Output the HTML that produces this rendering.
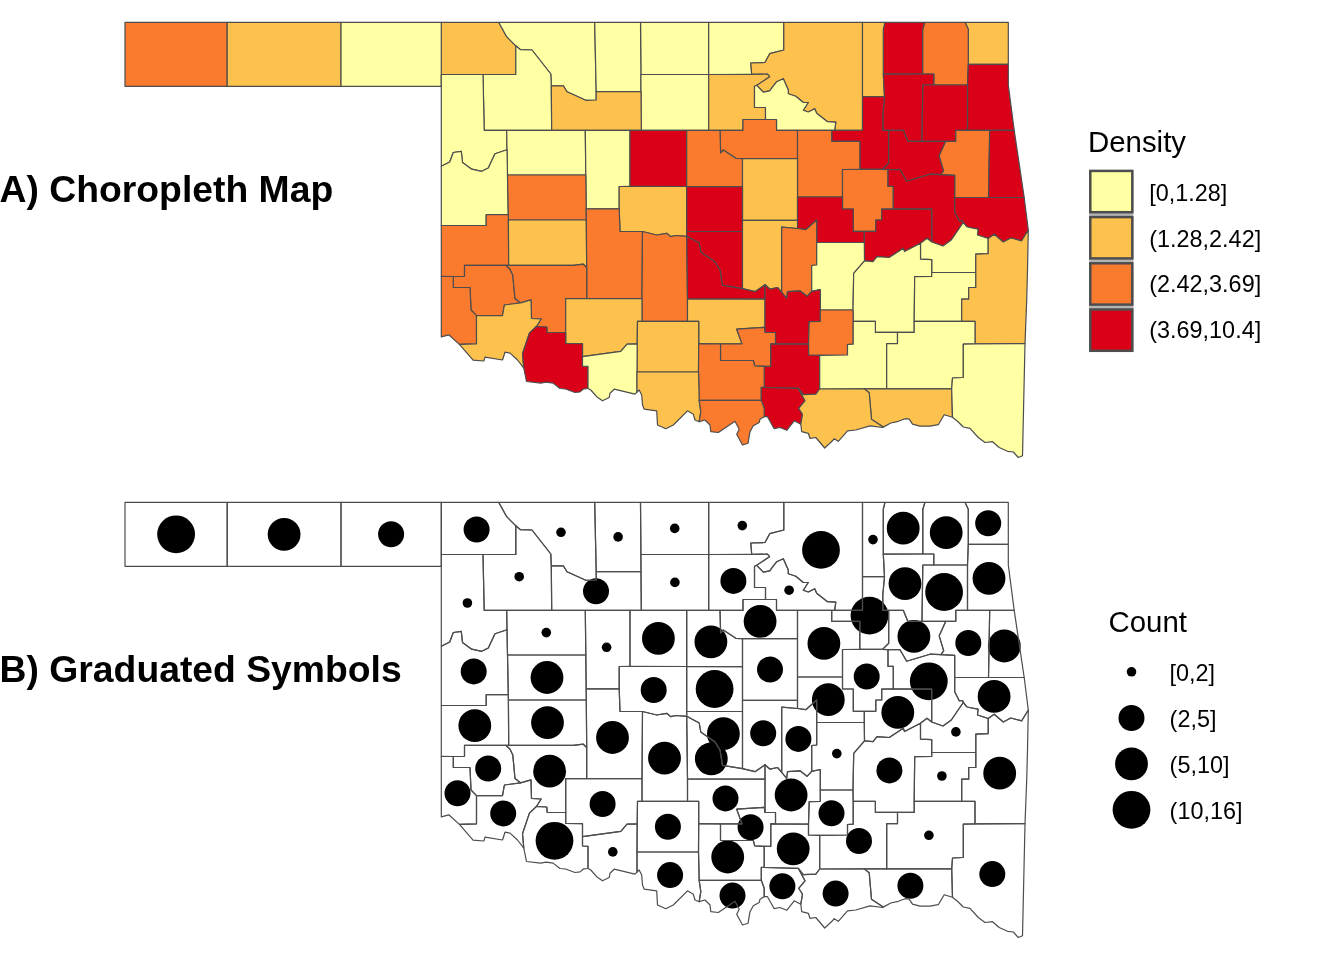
<!DOCTYPE html>
<html lang="en"><head><meta charset="utf-8"><title>Oklahoma maps</title>
<style>
html,body{margin:0;padding:0;background:#fff;}
body{width:1344px;height:960px;overflow:hidden;position:relative;font-family:"Liberation Sans",Arial,sans-serif;}
svg{position:absolute;left:0;top:0;display:block;}
.ttl{font-family:"Liberation Sans",Arial,sans-serif;font-weight:700;font-size:37.3px;fill:#000;}
.lt{font-family:"Liberation Sans",Arial,sans-serif;font-size:29.4px;fill:#000;}
.ll{font-family:"Liberation Sans",Arial,sans-serif;font-size:23.4px;fill:#000;}
</style></head><body>
<svg width="1344" height="960" viewBox="0 0 1344 960">
<rect width="1344" height="960" fill="#fff"/>
<g stroke="#4d4d4d" stroke-width="1.2" stroke-linejoin="round">
<path d="M498.7 22.3L441.3 22.3L441.3 74.5L483.0 74.5L515.8 74.5L515.8 45.8L506.7 36.7Z" fill="#fdc24e"/><path d="M708.7 22.3L640.5 22.3L640.9 74.5L708.7 74.5Z" fill="#ffffa3"/><path d="M783.8 22.3L708.7 22.3L708.7 74.5L751.7 74.3L750.8 63.0L765.0 62.5L769.7 53.7L783.8 50.0Z" fill="#ffffa3"/><path d="M925.0 22.3L885.0 22.3L883.3 29.2L883.3 74.2L922.8 74.0L922.8 29.2Z" fill="#da0017"/><path d="M1008.3 64.4L1008.3 22.3L965.0 22.3L968.3 29.2L968.3 64.4Z" fill="#fdc24e"/><path d="M227.2 22.3L125.0 22.3L125.0 86.3L227.2 86.3Z" fill="#fb7b2e"/><path d="M341.0 22.3L227.2 22.3L227.2 86.3L341.0 86.3Z" fill="#fdc24e"/><path d="M441.3 22.3L341.0 22.3L341.0 86.3L441.3 86.3L441.3 74.5Z" fill="#ffffa3"/><path d="M594.7 22.3L498.7 22.3L506.7 36.7L515.8 45.8L520.5 49.7L532.0 50.0L550.8 74.0L551.3 85.8L563.3 85.8L567.0 91.7L585.8 100.3L596.2 100.0L596.2 91.7Z" fill="#ffffa3"/><path d="M640.5 22.3L594.7 22.3L596.2 91.7L641.0 91.7L640.9 74.5Z" fill="#ffffa3"/><path d="M862.5 22.3L783.8 22.3L783.8 50.0L769.7 53.7L765.0 62.5L750.8 63.0L751.7 74.3L767.5 74.2L769.5 76.7L756.7 85.3L763.3 92.2L769.7 90.8L772.8 86.7L776.7 81.7L783.3 78.7L788.3 90.0L788.3 93.7L795.8 96.2L803.3 102.5L808.3 102.5L803.3 110.3L808.3 112.0L814.7 108.7L816.7 113.3L827.5 121.7L835.8 122.2L834.7 130.3L862.5 130.2L862.5 96.7Z" fill="#fdc24e"/><path d="M885.0 22.3L862.5 22.3L862.5 96.7L884.5 96.7L883.3 74.3L883.3 74.2L883.3 29.2Z" fill="#fdc24e"/><path d="M965.0 22.3L925.0 22.3L922.8 29.2L922.8 74.0L933.8 74.0L933.8 85.0L967.5 85.0L968.3 64.4L968.3 29.2Z" fill="#fb7b2e"/><path d="M515.8 74.5L483.0 74.5L484.2 130.3L506.7 130.3L551.7 130.3L551.3 85.8L550.8 74.0L532.0 50.0L520.5 49.7L515.8 45.8Z" fill="#ffffa3"/><path d="M640.9 74.5L641.0 91.7L641.3 130.3L686.7 130.3L708.7 130.3L708.7 74.5Z" fill="#ffffa3"/><path d="M751.7 74.3L708.7 74.5L708.7 130.3L720.0 130.3L743.0 130.3L743.0 119.5L765.5 119.5L765.5 107.5L754.5 107.5L754.5 86.3L756.7 85.3L769.5 76.7L767.5 74.2Z" fill="#fdc24e"/><path d="M882.8 130.3L888.7 130.3L903.3 130.3L907.8 141.3L922.0 141.3L922.8 85.0L933.8 85.0L933.8 74.0L922.8 74.0L883.3 74.2L883.3 74.3L884.5 96.7L882.8 115.0Z" fill="#da0017"/><path d="M1014.2 130.3L1008.3 85.0L1008.3 64.4L968.3 64.4L967.5 85.0L967.5 130.3L989.7 130.3Z" fill="#da0017"/><path d="M441.3 86.3L441.3 166.3L449.7 162.0L453.3 152.5L461.3 151.3L462.5 162.5L471.7 169.2L481.7 171.3L488.3 168.0L495.0 153.7L507.0 149.7L506.7 130.3L484.2 130.3L483.0 74.5L441.3 74.5Z" fill="#ffffa3"/><path d="M596.2 91.7L596.2 100.0L585.8 100.3L567.0 91.7L563.3 85.8L551.3 85.8L551.7 130.3L585.3 130.3L630.0 130.3L641.3 130.3L641.0 91.7Z" fill="#fdc24e"/><path d="M765.5 119.5L776.5 119.5L776.5 130.3L797.5 130.3L831.7 130.3L834.7 130.3L835.8 122.2L827.5 121.7L816.7 113.3L814.7 108.7L808.3 112.0L803.3 110.3L808.3 102.5L803.3 102.5L795.8 96.2L788.3 93.7L788.3 90.0L783.3 78.7L776.7 81.7L772.8 86.7L769.7 90.8L763.3 92.2L756.7 85.3L754.5 86.3L754.5 107.5L765.5 107.5Z" fill="#ffffa3"/><path d="M922.0 141.3L945.8 141.3L955.8 141.3L955.8 130.3L967.5 130.3L967.5 85.0L933.8 85.0L922.8 85.0Z" fill="#da0017"/><path d="M743.0 130.3L720.0 130.3L720.6 153.0L723.3 150.0L735.8 158.3L742.5 158.7L797.5 158.7L797.5 130.3L776.5 130.3L776.5 119.5L765.5 119.5L743.0 119.5Z" fill="#fb7b2e"/><path d="M834.7 130.3L831.7 130.3L831.7 141.3L859.8 141.3L859.8 169.3L882.5 169.4L888.7 163.3L888.7 130.3L882.8 130.3L882.8 115.0L884.5 96.7L862.5 96.7L862.5 130.2Z" fill="#da0017"/><path d="M551.7 130.3L506.7 130.3L507.0 149.7L507.0 150.0L507.5 175.0L585.8 175.0L585.3 130.3Z" fill="#ffffa3"/><path d="M630.0 130.3L585.3 130.3L585.8 175.0L586.2 208.8L619.2 208.8L619.2 186.5L630.0 186.3Z" fill="#ffffa3"/><path d="M641.3 130.3L630.0 130.3L630.0 186.3L686.7 186.5L686.7 130.3Z" fill="#da0017"/><path d="M708.7 130.3L686.7 130.3L686.7 186.5L742.5 186.7L742.5 158.7L735.8 158.3L723.3 150.0L720.6 153.0L720.0 130.3Z" fill="#fb7b2e"/><path d="M831.7 130.3L797.5 130.3L797.5 158.7L797.5 197.0L842.5 197.0L842.5 169.5L859.8 169.3L859.8 141.3L831.7 141.3Z" fill="#fb7b2e"/><path d="M922.0 141.3L907.8 141.3L903.3 130.3L888.7 130.3L888.7 163.3L882.5 169.4L888.0 169.7L900.0 169.7L906.7 181.3L930.0 174.2L940.8 174.7L943.7 170.8L939.2 155.8L945.8 141.3Z" fill="#da0017"/><path d="M955.8 141.3L945.8 141.3L939.2 155.8L943.7 170.8L940.8 174.7L954.7 175.3L954.7 197.5L988.5 197.5L989.7 130.3L967.5 130.3L955.8 130.3Z" fill="#fb7b2e"/><path d="M1024.2 197.5L1014.2 130.3L989.7 130.3L988.5 197.5Z" fill="#da0017"/><path d="M797.5 197.0L797.5 158.7L742.5 158.7L742.5 186.7L742.5 220.3L797.5 220.3Z" fill="#fdc24e"/><path d="M441.3 166.3L441.3 225.5L486.2 225.5L486.2 214.7L508.3 214.7L507.5 175.0L507.0 150.0L507.0 149.7L495.0 153.7L488.3 168.0L481.7 171.3L471.7 169.2L462.5 162.5L461.3 151.3L453.3 152.5L449.7 162.0Z" fill="#ffffa3"/><path d="M586.2 208.8L585.8 175.0L507.5 175.0L508.3 214.7L508.4 220.0L586.3 220.0Z" fill="#fb7b2e"/><path d="M686.7 231.5L686.7 186.5L630.0 186.3L619.2 186.5L619.2 208.8L620.0 231.5L642.5 231.5L656.7 235.0L666.7 233.3L670.8 236.7L675.8 235.5L686.7 236.3Z" fill="#fdc24e"/><path d="M686.7 186.5L686.7 231.5L742.5 231.5L742.5 220.3L742.5 186.7Z" fill="#da0017"/><path d="M859.8 169.3L842.5 169.5L842.5 197.0L842.5 209.0L853.3 209.0L853.3 231.3L864.3 231.3L875.8 231.3L875.8 220.0L881.7 220.0L881.7 209.2L893.3 208.9L893.3 186.3L888.0 186.3L888.0 169.7L882.5 169.4Z" fill="#fb7b2e"/><path d="M954.7 197.5L954.7 175.3L940.8 174.7L930.0 174.2L906.7 181.3L900.0 169.7L888.0 169.7L888.0 186.3L893.3 186.3L893.3 208.9L931.7 209.2L931.7 242.0L943.0 246.0L951.3 240.0L963.3 222.5L962.5 220.5L959.2 220.8L954.7 211.7Z" fill="#da0017"/><path d="M797.5 197.0L797.5 220.3L797.5 228.5L805.8 229.7L816.7 220.0L816.7 242.5L864.3 242.5L864.3 231.3L853.3 231.3L853.3 209.0L842.5 209.0L842.5 197.0Z" fill="#da0017"/><path d="M1028.3 230.0L1024.2 197.5L988.5 197.5L954.7 197.5L954.7 211.7L959.2 220.8L962.5 220.5L963.3 222.5L966.7 226.7L969.2 227.5L978.0 229.2L977.5 235.0L988.2 238.5L994.2 234.2L1003.3 242.0L1010.8 238.0L1021.7 240.8Z" fill="#da0017"/><path d="M441.3 225.5L441.3 276.4L453.3 276.5L464.5 276.3L464.5 265.3L505.8 265.3L508.7 265.3L508.4 220.0L508.3 214.7L486.2 214.7L486.2 225.5Z" fill="#fb7b2e"/><path d="M586.7 267.5L586.3 220.0L508.4 220.0L508.7 265.3L573.3 265.3L583.3 264.2Z" fill="#fdc24e"/><path d="M893.3 208.9L881.7 209.2L881.7 220.0L875.8 220.0L875.8 231.3L864.3 231.3L864.3 242.5L864.5 260.8L873.0 261.7L877.0 256.7L889.2 257.5L903.3 248.3L904.5 251.5L920.5 243.2L927.0 238.3L931.7 242.0L931.7 209.2Z" fill="#da0017"/><path d="M642.0 298.7L642.5 231.5L620.0 231.5L619.2 208.8L586.2 208.8L586.3 220.0L586.7 267.5L586.7 298.7Z" fill="#fb7b2e"/><path d="M686.7 236.3L699.2 243.0L700.8 252.0L715.0 262.0L720.0 270.0L722.5 285.3L742.5 288.7L742.5 231.5L686.7 231.5Z" fill="#da0017"/><path d="M797.5 228.5L797.5 220.3L742.5 220.3L742.5 231.5L742.5 288.7L755.0 291.7L765.0 284.7L770.0 289.2L777.5 287.5L781.7 292.4L781.7 227.2Z" fill="#fdc24e"/><path d="M797.5 228.5L781.7 227.2L781.7 292.4L786.7 298.3L787.5 291.7L800.0 290.8L807.0 296.3L811.7 291.3L811.7 265.5L816.7 265.0L816.7 242.5L816.7 220.0L805.8 229.7Z" fill="#fb7b2e"/><path d="M988.2 238.5L977.5 235.0L978.0 229.2L969.2 227.5L966.7 226.7L963.3 222.5L951.3 240.0L943.0 246.0L931.7 242.0L927.0 238.3L920.5 243.2L920.5 259.2L931.7 259.6L931.7 272.5L975.8 272.5L975.8 254.2L988.2 253.7Z" fill="#ffffa3"/><path d="M505.8 265.3L464.5 265.3L464.5 276.3L453.3 276.5L453.3 287.5L470.0 287.5L471.0 310.0L476.5 315.6L502.5 315.6L504.4 305.0L520.6 302.8L515.0 298.5L512.8 275.0L510.0 269.2Z" fill="#fb7b2e"/><path d="M687.5 299.0L686.7 236.3L675.8 235.5L670.8 236.7L666.7 233.3L656.7 235.0L642.5 231.5L642.0 298.7L642.0 321.3L687.5 321.3Z" fill="#fb7b2e"/><path d="M742.5 288.7L722.5 285.3L720.0 270.0L715.0 262.0L700.8 252.0L699.2 243.0L686.7 236.3L687.5 299.0L765.0 299.2L765.0 284.7L755.0 291.7Z" fill="#da0017"/><path d="M864.5 260.8L864.3 242.5L816.7 242.5L816.7 265.0L811.7 265.5L811.7 291.3L820.3 289.5L820.3 310.0L853.0 310.0L853.7 273.3Z" fill="#ffffa3"/><path d="M536.4 326.5L546.8 327.0L547.2 332.5L565.7 332.5L565.7 298.7L586.7 298.7L586.7 267.5L583.3 264.2L573.3 265.3L508.7 265.3L505.8 265.3L510.0 269.2L512.8 275.0L515.0 298.5L520.6 302.8L531.0 299.8L531.5 318.5L541.2 319.0Z" fill="#fb7b2e"/><path d="M920.5 243.2L904.5 251.5L903.3 248.3L889.2 257.5L877.0 256.7L873.0 261.7L864.5 260.8L853.7 273.3L853.0 310.0L853.2 321.3L875.4 321.3L875.4 332.4L897.5 332.4L914.2 332.4L914.2 321.3L914.7 276.7L931.7 276.4L931.7 272.5L931.7 259.6L920.5 259.2Z" fill="#ffffa3"/><path d="M914.2 321.3L961.7 321.3L961.7 299.2L968.7 299.2L968.7 287.5L975.8 287.5L975.8 272.5L931.7 272.5L931.7 276.4L914.7 276.7Z" fill="#ffffa3"/><path d="M1025.0 343.7L1026.7 300.0L1027.5 270.0L1028.3 230.0L1021.7 240.8L1010.8 238.0L1003.3 242.0L994.2 234.2L988.2 238.5L988.2 253.7L975.8 254.2L975.8 272.5L975.8 287.5L968.7 287.5L968.7 299.2L961.7 299.2L961.7 321.3L975.0 321.3L975.0 343.8Z" fill="#fdc24e"/><path d="M441.3 276.4L441.3 336.9L448.8 334.8L459.4 344.4L476.5 343.8L476.5 315.6L471.0 310.0L470.0 287.5L453.3 287.5L453.3 276.5Z" fill="#fb7b2e"/><path d="M637.5 321.3L642.0 321.3L642.0 298.7L586.7 298.7L565.7 298.7L565.7 332.5L565.7 343.3L582.5 343.7L582.5 356.7L620.8 351.3L627.0 344.2L637.2 343.9Z" fill="#fdc24e"/><path d="M736.7 329.2L764.2 327.3L765.0 332.5L765.0 299.2L687.5 299.0L687.5 321.3L698.7 321.3L698.7 343.7L720.5 343.8L742.0 343.9Z" fill="#fdc24e"/><path d="M781.7 292.4L777.5 287.5L770.0 289.2L765.0 284.7L765.0 299.2L765.0 332.5L775.5 332.5L775.5 343.5L770.8 343.8L808.5 344.2L809.2 321.7L820.3 321.3L820.3 310.0L820.3 289.5L811.7 291.3L807.0 296.3L800.0 290.8L787.5 291.7L786.7 298.3Z" fill="#da0017"/><path d="M459.4 344.4L473.1 360.2L483.8 361.0L485.0 357.1L502.5 360.0L505.0 352.2L510.0 353.1L517.5 360.0L523.8 368.1L522.5 353.8L529.4 333.1L536.4 326.5L541.2 319.0L531.5 318.5L531.0 299.8L520.6 302.8L504.4 305.0L502.5 315.6L476.5 315.6L476.5 343.8Z" fill="#fdc24e"/><path d="M698.7 343.7L698.7 321.3L687.5 321.3L642.0 321.3L637.5 321.3L637.2 343.9L637.0 372.0L698.5 372.0Z" fill="#fdc24e"/><path d="M770.8 343.8L775.5 343.5L775.5 332.5L765.0 332.5L764.2 327.3L736.7 329.2L742.0 343.9L720.5 343.8L720.5 360.5L753.3 360.5L754.7 365.8L764.2 366.3L770.8 366.3Z" fill="#fb7b2e"/><path d="M853.2 321.3L853.0 310.0L820.3 310.0L820.3 321.3L809.2 321.7L808.5 344.2L808.5 355.0L819.7 355.3L847.5 355.0L847.5 344.5L853.2 344.2Z" fill="#fb7b2e"/><path d="M523.8 368.1L526.5 381.5L540.6 383.1L546.2 382.2L553.1 383.1L560.0 388.5L565.6 389.0L575.0 392.5L580.0 391.9L583.8 388.8L588.0 388.5L588.0 366.4L582.5 366.0L582.5 356.7L582.5 343.7L565.7 343.3L565.7 332.5L547.2 332.5L546.8 327.0L536.4 326.5L529.4 333.1L522.5 353.8Z" fill="#da0017"/><path d="M819.7 355.3L808.5 355.0L808.5 344.2L770.8 343.8L770.8 366.3L764.2 366.3L764.2 387.5L798.3 388.3L803.3 394.7L815.8 394.2L819.7 389.0Z" fill="#da0017"/><path d="M853.2 321.3L853.2 344.2L847.5 344.5L847.5 355.0L819.7 355.3L819.7 389.0L864.2 388.9L886.7 388.9L886.7 343.7L897.5 343.7L897.5 332.4L875.4 332.4L875.4 321.3Z" fill="#ffffa3"/><path d="M886.7 388.9L951.7 388.9L952.5 378.0L963.3 377.5L963.3 344.2L975.0 343.8L975.0 321.3L961.7 321.3L914.2 321.3L914.2 332.4L897.5 332.4L897.5 343.7L886.7 343.7Z" fill="#ffffa3"/><path d="M588.0 388.5L590.8 390.0L596.7 396.7L602.5 400.8L609.2 397.5L610.0 393.3L614.2 389.2L635.0 394.2L637.0 392.2L637.0 372.0L637.2 343.9L627.0 344.2L620.8 351.3L582.5 356.7L582.5 366.0L588.0 366.4Z" fill="#ffffa3"/><path d="M761.3 387.4L764.2 387.5L764.2 366.3L754.7 365.8L753.3 360.5L720.5 360.5L720.5 343.8L698.7 343.7L698.5 372.0L699.2 400.4L761.3 400.3Z" fill="#fb7b2e"/><path d="M637.0 392.2L639.2 390.0L641.7 395.0L642.5 405.0L644.2 409.2L656.7 410.8L657.5 425.0L665.8 428.7L673.3 425.0L687.5 410.8L693.3 414.2L695.0 420.0L699.2 421.7L699.2 421.7L700.8 411.7L699.2 400.5L699.2 400.4L698.5 372.0L637.0 372.0Z" fill="#fdc24e"/><path d="M764.2 416.7L767.5 416.7L774.2 428.7L780.0 427.5L786.7 430.3L794.2 420.8L800.8 424.2L802.5 414.2L798.7 408.3L805.0 400.8L798.3 388.3L764.2 387.5L761.3 387.4L761.3 400.3L764.2 408.3Z" fill="#da0017"/><path d="M883.2 427.1L890.8 423.0L898.3 421.3L905.0 418.7L909.2 419.2L912.5 424.2L920.0 426.2L930.0 426.2L938.3 424.7L944.2 414.7L952.5 417.2L951.7 388.9L886.7 388.9L864.2 388.9L869.2 392.8L871.5 419.2Z" fill="#fdc24e"/><path d="M952.5 417.2L958.3 422.0L963.3 427.0L970.0 428.3L978.3 437.5L985.0 442.5L992.5 441.7L999.2 447.5L1007.5 451.3L1013.3 452.0L1018.3 457.5L1022.5 455.8L1025.0 343.7L975.0 343.8L963.3 344.2L963.3 377.5L952.5 378.0L951.7 388.9Z" fill="#ffffa3"/><path d="M699.2 421.7L705.0 420.0L710.0 425.0L710.8 431.7L718.3 432.5L735.0 421.3L739.2 429.2L736.7 434.2L742.5 445.0L748.0 443.3L750.0 431.7L753.3 425.8L759.2 422.5L760.0 419.2L764.2 416.7L764.2 408.3L761.3 400.3L699.2 400.4L699.2 400.5L700.8 411.7Z" fill="#fb7b2e"/><path d="M800.8 424.2L801.7 431.7L808.3 433.3L810.0 438.3L815.8 437.5L824.7 448.0L832.5 440.8L834.2 438.7L838.3 441.3L847.5 430.8L855.8 430.0L870.0 425.8L882.5 427.5L883.2 427.1L871.5 419.2L869.2 392.8L864.2 388.9L819.7 389.0L815.8 394.2L803.3 394.7L798.3 388.3L805.0 400.8L798.7 408.3L802.5 414.2Z" fill="#fdc24e"/>
</g>
<g fill="#000">
<circle cx="476.6" cy="529.5" r="13.0"/><circle cx="674.7" cy="528.4" r="4.8"/><circle cx="742.3" cy="525.6" r="4.8"/><circle cx="903.2" cy="528.2" r="16.4"/><circle cx="988.2" cy="523.2" r="13.0"/><circle cx="176.1" cy="534.3" r="18.9"/><circle cx="284.1" cy="534.3" r="16.4"/><circle cx="391.1" cy="534.3" r="13.0"/><circle cx="561.0" cy="532.3" r="4.8"/><circle cx="618.1" cy="536.9" r="4.8"/><circle cx="821.0" cy="549.9" r="18.9"/><circle cx="873.0" cy="539.6" r="4.8"/><circle cx="946.2" cy="532.6" r="16.4"/><circle cx="519.2" cy="576.7" r="4.8"/><circle cx="674.9" cy="582.4" r="4.8"/><circle cx="733.4" cy="580.9" r="13.0"/><circle cx="905.0" cy="583.6" r="16.4"/><circle cx="989.0" cy="578.3" r="16.4"/><circle cx="467.4" cy="603.0" r="4.8"/><circle cx="596.0" cy="591.2" r="13.0"/><circle cx="789.1" cy="590.2" r="4.8"/><circle cx="944.1" cy="592.0" r="18.9"/><circle cx="760.1" cy="621.3" r="16.4"/><circle cx="869.5" cy="615.6" r="18.9"/><circle cx="546.3" cy="632.6" r="4.8"/><circle cx="606.6" cy="647.3" r="4.8"/><circle cx="658.4" cy="638.4" r="16.4"/><circle cx="710.9" cy="641.8" r="16.4"/><circle cx="823.9" cy="643.4" r="16.4"/><circle cx="913.9" cy="636.3" r="16.4"/><circle cx="968.3" cy="643.0" r="13.0"/><circle cx="1004.3" cy="646.0" r="16.4"/><circle cx="770.0" cy="669.5" r="13.0"/><circle cx="473.7" cy="671.4" r="13.0"/><circle cx="547.0" cy="677.5" r="16.4"/><circle cx="653.7" cy="690.0" r="13.0"/><circle cx="714.6" cy="689.0" r="18.9"/><circle cx="866.7" cy="676.5" r="13.0"/><circle cx="928.8" cy="681.3" r="18.9"/><circle cx="828.3" cy="699.7" r="16.4"/><circle cx="994.1" cy="696.4" r="16.4"/><circle cx="474.8" cy="725.6" r="16.4"/><circle cx="547.5" cy="722.6" r="16.4"/><circle cx="897.8" cy="712.4" r="16.4"/><circle cx="612.5" cy="737.5" r="16.4"/><circle cx="723.4" cy="733.7" r="16.4"/><circle cx="763.2" cy="733.3" r="13.0"/><circle cx="798.4" cy="738.9" r="13.0"/><circle cx="955.9" cy="731.9" r="4.8"/><circle cx="488.2" cy="768.5" r="13.0"/><circle cx="664.5" cy="758.2" r="16.4"/><circle cx="711.3" cy="758.8" r="16.4"/><circle cx="836.8" cy="753.6" r="4.8"/><circle cx="549.6" cy="771.2" r="16.4"/><circle cx="889.4" cy="770.4" r="13.0"/><circle cx="941.9" cy="776.0" r="4.8"/><circle cx="999.7" cy="773.2" r="16.4"/><circle cx="457.5" cy="793.2" r="13.0"/><circle cx="602.6" cy="804.0" r="13.0"/><circle cx="725.5" cy="798.4" r="13.0"/><circle cx="791.1" cy="795.0" r="16.4"/><circle cx="503.2" cy="813.4" r="13.0"/><circle cx="667.9" cy="826.7" r="13.0"/><circle cx="750.6" cy="827.2" r="13.0"/><circle cx="831.5" cy="813.3" r="13.0"/><circle cx="554.5" cy="840.8" r="18.9"/><circle cx="793.2" cy="848.8" r="16.4"/><circle cx="859.0" cy="841.0" r="13.0"/><circle cx="928.9" cy="835.3" r="4.8"/><circle cx="612.8" cy="851.9" r="4.8"/><circle cx="727.7" cy="857.0" r="16.4"/><circle cx="670.1" cy="875.1" r="13.0"/><circle cx="782.4" cy="886.2" r="13.0"/><circle cx="910.4" cy="885.8" r="13.0"/><circle cx="992.3" cy="874.1" r="13.0"/><circle cx="732.5" cy="895.6" r="13.0"/><circle cx="835.6" cy="893.6" r="13.0"/>
</g>
<g fill="none" stroke="#4d4d4d" stroke-width="1.2" stroke-linejoin="round">
<path d="M498.7 502.3L441.3 502.3L441.3 554.5L483.0 554.5L515.8 554.5L515.8 525.8L506.7 516.7Z"/><path d="M708.7 502.3L640.5 502.3L640.9 554.5L708.7 554.5Z"/><path d="M783.8 502.3L708.7 502.3L708.7 554.5L751.7 554.3L750.8 543.0L765.0 542.5L769.7 533.7L783.8 530.0Z"/><path d="M925.0 502.3L885.0 502.3L883.3 509.2L883.3 554.2L922.8 554.0L922.8 509.2Z"/><path d="M1008.3 544.4L1008.3 502.3L965.0 502.3L968.3 509.2L968.3 544.4Z"/><path d="M227.2 502.3L125.0 502.3L125.0 566.3L227.2 566.3Z"/><path d="M341.0 502.3L227.2 502.3L227.2 566.3L341.0 566.3Z"/><path d="M441.3 502.3L341.0 502.3L341.0 566.3L441.3 566.3L441.3 554.5Z"/><path d="M594.7 502.3L498.7 502.3L506.7 516.7L515.8 525.8L520.5 529.7L532.0 530.0L550.8 554.0L551.3 565.8L563.3 565.8L567.0 571.7L585.8 580.3L596.2 580.0L596.2 571.7Z"/><path d="M640.5 502.3L594.7 502.3L596.2 571.7L641.0 571.7L640.9 554.5Z"/><path d="M862.5 502.3L783.8 502.3L783.8 530.0L769.7 533.7L765.0 542.5L750.8 543.0L751.7 554.3L767.5 554.2L769.5 556.7L756.7 565.3L763.3 572.2L769.7 570.8L772.8 566.7L776.7 561.7L783.3 558.7L788.3 570.0L788.3 573.7L795.8 576.2L803.3 582.5L808.3 582.5L803.3 590.3L808.3 592.0L814.7 588.7L816.7 593.3L827.5 601.7L835.8 602.2L834.7 610.3L862.5 610.2L862.5 576.7Z"/><path d="M885.0 502.3L862.5 502.3L862.5 576.7L884.5 576.7L883.3 554.3L883.3 554.2L883.3 509.2Z"/><path d="M965.0 502.3L925.0 502.3L922.8 509.2L922.8 554.0L933.8 554.0L933.8 565.0L967.5 565.0L968.3 544.4L968.3 509.2Z"/><path d="M515.8 554.5L483.0 554.5L484.2 610.3L506.7 610.3L551.7 610.3L551.3 565.8L550.8 554.0L532.0 530.0L520.5 529.7L515.8 525.8Z"/><path d="M640.9 554.5L641.0 571.7L641.3 610.3L686.7 610.3L708.7 610.3L708.7 554.5Z"/><path d="M751.7 554.3L708.7 554.5L708.7 610.3L720.0 610.3L743.0 610.3L743.0 599.5L765.5 599.5L765.5 587.5L754.5 587.5L754.5 566.3L756.7 565.3L769.5 556.7L767.5 554.2Z"/><path d="M882.8 610.3L888.7 610.3L903.3 610.3L907.8 621.3L922.0 621.3L922.8 565.0L933.8 565.0L933.8 554.0L922.8 554.0L883.3 554.2L883.3 554.3L884.5 576.7L882.8 595.0Z"/><path d="M1014.2 610.3L1008.3 565.0L1008.3 544.4L968.3 544.4L967.5 565.0L967.5 610.3L989.7 610.3Z"/><path d="M441.3 566.3L441.3 646.3L449.7 642.0L453.3 632.5L461.3 631.3L462.5 642.5L471.7 649.2L481.7 651.3L488.3 648.0L495.0 633.7L507.0 629.7L506.7 610.3L484.2 610.3L483.0 554.5L441.3 554.5Z"/><path d="M596.2 571.7L596.2 580.0L585.8 580.3L567.0 571.7L563.3 565.8L551.3 565.8L551.7 610.3L585.3 610.3L630.0 610.3L641.3 610.3L641.0 571.7Z"/><path d="M765.5 599.5L776.5 599.5L776.5 610.3L797.5 610.3L831.7 610.3L834.7 610.3L835.8 602.2L827.5 601.7L816.7 593.3L814.7 588.7L808.3 592.0L803.3 590.3L808.3 582.5L803.3 582.5L795.8 576.2L788.3 573.7L788.3 570.0L783.3 558.7L776.7 561.7L772.8 566.7L769.7 570.8L763.3 572.2L756.7 565.3L754.5 566.3L754.5 587.5L765.5 587.5Z"/><path d="M922.0 621.3L945.8 621.3L955.8 621.3L955.8 610.3L967.5 610.3L967.5 565.0L933.8 565.0L922.8 565.0Z"/><path d="M743.0 610.3L720.0 610.3L720.6 633.0L723.3 630.0L735.8 638.3L742.5 638.7L797.5 638.7L797.5 610.3L776.5 610.3L776.5 599.5L765.5 599.5L743.0 599.5Z"/><path d="M834.7 610.3L831.7 610.3L831.7 621.3L859.8 621.3L859.8 649.3L882.5 649.4L888.7 643.3L888.7 610.3L882.8 610.3L882.8 595.0L884.5 576.7L862.5 576.7L862.5 610.2Z"/><path d="M551.7 610.3L506.7 610.3L507.0 629.7L507.0 630.0L507.5 655.0L585.8 655.0L585.3 610.3Z"/><path d="M630.0 610.3L585.3 610.3L585.8 655.0L586.2 688.8L619.2 688.8L619.2 666.5L630.0 666.3Z"/><path d="M641.3 610.3L630.0 610.3L630.0 666.3L686.7 666.5L686.7 610.3Z"/><path d="M708.7 610.3L686.7 610.3L686.7 666.5L742.5 666.7L742.5 638.7L735.8 638.3L723.3 630.0L720.6 633.0L720.0 610.3Z"/><path d="M831.7 610.3L797.5 610.3L797.5 638.7L797.5 677.0L842.5 677.0L842.5 649.5L859.8 649.3L859.8 621.3L831.7 621.3Z"/><path d="M922.0 621.3L907.8 621.3L903.3 610.3L888.7 610.3L888.7 643.3L882.5 649.4L888.0 649.7L900.0 649.7L906.7 661.3L930.0 654.2L940.8 654.7L943.7 650.8L939.2 635.8L945.8 621.3Z"/><path d="M955.8 621.3L945.8 621.3L939.2 635.8L943.7 650.8L940.8 654.7L954.7 655.3L954.7 677.5L988.5 677.5L989.7 610.3L967.5 610.3L955.8 610.3Z"/><path d="M1024.2 677.5L1014.2 610.3L989.7 610.3L988.5 677.5Z"/><path d="M797.5 677.0L797.5 638.7L742.5 638.7L742.5 666.7L742.5 700.3L797.5 700.3Z"/><path d="M441.3 646.3L441.3 705.5L486.2 705.5L486.2 694.7L508.3 694.7L507.5 655.0L507.0 630.0L507.0 629.7L495.0 633.7L488.3 648.0L481.7 651.3L471.7 649.2L462.5 642.5L461.3 631.3L453.3 632.5L449.7 642.0Z"/><path d="M586.2 688.8L585.8 655.0L507.5 655.0L508.3 694.7L508.4 700.0L586.3 700.0Z"/><path d="M686.7 711.5L686.7 666.5L630.0 666.3L619.2 666.5L619.2 688.8L620.0 711.5L642.5 711.5L656.7 715.0L666.7 713.3L670.8 716.7L675.8 715.5L686.7 716.3Z"/><path d="M686.7 666.5L686.7 711.5L742.5 711.5L742.5 700.3L742.5 666.7Z"/><path d="M859.8 649.3L842.5 649.5L842.5 677.0L842.5 689.0L853.3 689.0L853.3 711.3L864.3 711.3L875.8 711.3L875.8 700.0L881.7 700.0L881.7 689.2L893.3 688.9L893.3 666.3L888.0 666.3L888.0 649.7L882.5 649.4Z"/><path d="M954.7 677.5L954.7 655.3L940.8 654.7L930.0 654.2L906.7 661.3L900.0 649.7L888.0 649.7L888.0 666.3L893.3 666.3L893.3 688.9L931.7 689.2L931.7 722.0L943.0 726.0L951.3 720.0L963.3 702.5L962.5 700.5L959.2 700.8L954.7 691.7Z"/><path d="M797.5 677.0L797.5 700.3L797.5 708.5L805.8 709.7L816.7 700.0L816.7 722.5L864.3 722.5L864.3 711.3L853.3 711.3L853.3 689.0L842.5 689.0L842.5 677.0Z"/><path d="M1028.3 710.0L1024.2 677.5L988.5 677.5L954.7 677.5L954.7 691.7L959.2 700.8L962.5 700.5L963.3 702.5L966.7 706.7L969.2 707.5L978.0 709.2L977.5 715.0L988.2 718.5L994.2 714.2L1003.3 722.0L1010.8 718.0L1021.7 720.8Z"/><path d="M441.3 705.5L441.3 756.4L453.3 756.5L464.5 756.3L464.5 745.3L505.8 745.3L508.7 745.3L508.4 700.0L508.3 694.7L486.2 694.7L486.2 705.5Z"/><path d="M586.7 747.5L586.3 700.0L508.4 700.0L508.7 745.3L573.3 745.3L583.3 744.2Z"/><path d="M893.3 688.9L881.7 689.2L881.7 700.0L875.8 700.0L875.8 711.3L864.3 711.3L864.3 722.5L864.5 740.8L873.0 741.7L877.0 736.7L889.2 737.5L903.3 728.3L904.5 731.5L920.5 723.2L927.0 718.3L931.7 722.0L931.7 689.2Z"/><path d="M642.0 778.7L642.5 711.5L620.0 711.5L619.2 688.8L586.2 688.8L586.3 700.0L586.7 747.5L586.7 778.7Z"/><path d="M686.7 716.3L699.2 723.0L700.8 732.0L715.0 742.0L720.0 750.0L722.5 765.3L742.5 768.7L742.5 711.5L686.7 711.5Z"/><path d="M797.5 708.5L797.5 700.3L742.5 700.3L742.5 711.5L742.5 768.7L755.0 771.7L765.0 764.7L770.0 769.2L777.5 767.5L781.7 772.4L781.7 707.2Z"/><path d="M797.5 708.5L781.7 707.2L781.7 772.4L786.7 778.3L787.5 771.7L800.0 770.8L807.0 776.3L811.7 771.3L811.7 745.5L816.7 745.0L816.7 722.5L816.7 700.0L805.8 709.7Z"/><path d="M988.2 718.5L977.5 715.0L978.0 709.2L969.2 707.5L966.7 706.7L963.3 702.5L951.3 720.0L943.0 726.0L931.7 722.0L927.0 718.3L920.5 723.2L920.5 739.2L931.7 739.6L931.7 752.5L975.8 752.5L975.8 734.2L988.2 733.7Z"/><path d="M505.8 745.3L464.5 745.3L464.5 756.3L453.3 756.5L453.3 767.5L470.0 767.5L471.0 790.0L476.5 795.6L502.5 795.6L504.4 785.0L520.6 782.8L515.0 778.5L512.8 755.0L510.0 749.2Z"/><path d="M687.5 779.0L686.7 716.3L675.8 715.5L670.8 716.7L666.7 713.3L656.7 715.0L642.5 711.5L642.0 778.7L642.0 801.3L687.5 801.3Z"/><path d="M742.5 768.7L722.5 765.3L720.0 750.0L715.0 742.0L700.8 732.0L699.2 723.0L686.7 716.3L687.5 779.0L765.0 779.2L765.0 764.7L755.0 771.7Z"/><path d="M864.5 740.8L864.3 722.5L816.7 722.5L816.7 745.0L811.7 745.5L811.7 771.3L820.3 769.5L820.3 790.0L853.0 790.0L853.7 753.3Z"/><path d="M536.4 806.5L546.8 807.0L547.2 812.5L565.7 812.5L565.7 778.7L586.7 778.7L586.7 747.5L583.3 744.2L573.3 745.3L508.7 745.3L505.8 745.3L510.0 749.2L512.8 755.0L515.0 778.5L520.6 782.8L531.0 779.8L531.5 798.5L541.2 799.0Z"/><path d="M920.5 723.2L904.5 731.5L903.3 728.3L889.2 737.5L877.0 736.7L873.0 741.7L864.5 740.8L853.7 753.3L853.0 790.0L853.2 801.3L875.4 801.3L875.4 812.4L897.5 812.4L914.2 812.4L914.2 801.3L914.7 756.7L931.7 756.4L931.7 752.5L931.7 739.6L920.5 739.2Z"/><path d="M914.2 801.3L961.7 801.3L961.7 779.2L968.7 779.2L968.7 767.5L975.8 767.5L975.8 752.5L931.7 752.5L931.7 756.4L914.7 756.7Z"/><path d="M1025.0 823.7L1026.7 780.0L1027.5 750.0L1028.3 710.0L1021.7 720.8L1010.8 718.0L1003.3 722.0L994.2 714.2L988.2 718.5L988.2 733.7L975.8 734.2L975.8 752.5L975.8 767.5L968.7 767.5L968.7 779.2L961.7 779.2L961.7 801.3L975.0 801.3L975.0 823.8Z"/><path d="M441.3 756.4L441.3 816.9L448.8 814.8L459.4 824.4L476.5 823.8L476.5 795.6L471.0 790.0L470.0 767.5L453.3 767.5L453.3 756.5Z"/><path d="M637.5 801.3L642.0 801.3L642.0 778.7L586.7 778.7L565.7 778.7L565.7 812.5L565.7 823.3L582.5 823.7L582.5 836.7L620.8 831.3L627.0 824.2L637.2 823.9Z"/><path d="M736.7 809.2L764.2 807.3L765.0 812.5L765.0 779.2L687.5 779.0L687.5 801.3L698.7 801.3L698.7 823.7L720.5 823.8L742.0 823.9Z"/><path d="M781.7 772.4L777.5 767.5L770.0 769.2L765.0 764.7L765.0 779.2L765.0 812.5L775.5 812.5L775.5 823.5L770.8 823.8L808.5 824.2L809.2 801.7L820.3 801.3L820.3 790.0L820.3 769.5L811.7 771.3L807.0 776.3L800.0 770.8L787.5 771.7L786.7 778.3Z"/><path d="M459.4 824.4L473.1 840.2L483.8 841.0L485.0 837.1L502.5 840.0L505.0 832.2L510.0 833.1L517.5 840.0L523.8 848.1L522.5 833.8L529.4 813.1L536.4 806.5L541.2 799.0L531.5 798.5L531.0 779.8L520.6 782.8L504.4 785.0L502.5 795.6L476.5 795.6L476.5 823.8Z"/><path d="M698.7 823.7L698.7 801.3L687.5 801.3L642.0 801.3L637.5 801.3L637.2 823.9L637.0 852.0L698.5 852.0Z"/><path d="M770.8 823.8L775.5 823.5L775.5 812.5L765.0 812.5L764.2 807.3L736.7 809.2L742.0 823.9L720.5 823.8L720.5 840.5L753.3 840.5L754.7 845.8L764.2 846.3L770.8 846.3Z"/><path d="M853.2 801.3L853.0 790.0L820.3 790.0L820.3 801.3L809.2 801.7L808.5 824.2L808.5 835.0L819.7 835.3L847.5 835.0L847.5 824.5L853.2 824.2Z"/><path d="M523.8 848.1L526.5 861.5L540.6 863.1L546.2 862.2L553.1 863.1L560.0 868.5L565.6 869.0L575.0 872.5L580.0 871.9L583.8 868.8L588.0 868.5L588.0 846.4L582.5 846.0L582.5 836.7L582.5 823.7L565.7 823.3L565.7 812.5L547.2 812.5L546.8 807.0L536.4 806.5L529.4 813.1L522.5 833.8Z"/><path d="M819.7 835.3L808.5 835.0L808.5 824.2L770.8 823.8L770.8 846.3L764.2 846.3L764.2 867.5L798.3 868.3L803.3 874.7L815.8 874.2L819.7 869.0Z"/><path d="M853.2 801.3L853.2 824.2L847.5 824.5L847.5 835.0L819.7 835.3L819.7 869.0L864.2 868.9L886.7 868.9L886.7 823.7L897.5 823.7L897.5 812.4L875.4 812.4L875.4 801.3Z"/><path d="M886.7 868.9L951.7 868.9L952.5 858.0L963.3 857.5L963.3 824.2L975.0 823.8L975.0 801.3L961.7 801.3L914.2 801.3L914.2 812.4L897.5 812.4L897.5 823.7L886.7 823.7Z"/><path d="M588.0 868.5L590.8 870.0L596.7 876.7L602.5 880.8L609.2 877.5L610.0 873.3L614.2 869.2L635.0 874.2L637.0 872.2L637.0 852.0L637.2 823.9L627.0 824.2L620.8 831.3L582.5 836.7L582.5 846.0L588.0 846.4Z"/><path d="M761.3 867.4L764.2 867.5L764.2 846.3L754.7 845.8L753.3 840.5L720.5 840.5L720.5 823.8L698.7 823.7L698.5 852.0L699.2 880.4L761.3 880.3Z"/><path d="M637.0 872.2L639.2 870.0L641.7 875.0L642.5 885.0L644.2 889.2L656.7 890.8L657.5 905.0L665.8 908.7L673.3 905.0L687.5 890.8L693.3 894.2L695.0 900.0L699.2 901.7L699.2 901.7L700.8 891.7L699.2 880.5L699.2 880.4L698.5 852.0L637.0 852.0Z"/><path d="M764.2 896.7L767.5 896.7L774.2 908.7L780.0 907.5L786.7 910.3L794.2 900.8L800.8 904.2L802.5 894.2L798.7 888.3L805.0 880.8L798.3 868.3L764.2 867.5L761.3 867.4L761.3 880.3L764.2 888.3Z"/><path d="M883.2 907.1L890.8 903.0L898.3 901.3L905.0 898.7L909.2 899.2L912.5 904.2L920.0 906.2L930.0 906.2L938.3 904.7L944.2 894.7L952.5 897.2L951.7 868.9L886.7 868.9L864.2 868.9L869.2 872.8L871.5 899.2Z"/><path d="M952.5 897.2L958.3 902.0L963.3 907.0L970.0 908.3L978.3 917.5L985.0 922.5L992.5 921.7L999.2 927.5L1007.5 931.3L1013.3 932.0L1018.3 937.5L1022.5 935.8L1025.0 823.7L975.0 823.8L963.3 824.2L963.3 857.5L952.5 858.0L951.7 868.9Z"/><path d="M699.2 901.7L705.0 900.0L710.0 905.0L710.8 911.7L718.3 912.5L735.0 901.3L739.2 909.2L736.7 914.2L742.5 925.0L748.0 923.3L750.0 911.7L753.3 905.8L759.2 902.5L760.0 899.2L764.2 896.7L764.2 888.3L761.3 880.3L699.2 880.4L699.2 880.5L700.8 891.7Z"/><path d="M800.8 904.2L801.7 911.7L808.3 913.3L810.0 918.3L815.8 917.5L824.7 928.0L832.5 920.8L834.2 918.7L838.3 921.3L847.5 910.8L855.8 910.0L870.0 905.8L882.5 907.5L883.2 907.1L871.5 899.2L869.2 872.8L864.2 868.9L819.7 869.0L815.8 874.2L803.3 874.7L798.3 868.3L805.0 880.8L798.7 888.3L802.5 894.2Z"/>
</g>
<text class="ttl" x="-0.4" y="202">A) Choropleth Map</text>
<text class="ttl" x="-0.4" y="682">B) Graduated Symbols</text>
<text class="lt" x="1088" y="152">Density</text>
<rect x="1089.2" y="171" width="44.2" height="180" fill="#b4b4b4"/>
<g stroke="#4d4d4d" stroke-width="2.5">
<rect x="1090.3" y="170.9" width="42" height="41.3" fill="#ffffa3"/>
<rect x="1090.3" y="217.1" width="42" height="41.3" fill="#fdc24e"/>
<rect x="1090.3" y="263.3" width="42" height="41.3" fill="#fb7b2e"/>
<rect x="1090.3" y="309.5" width="42" height="41.3" fill="#da0017"/>
</g>
<text class="ll" x="1149.3" y="200.7">[0,1.28]</text>
<text class="ll" x="1149.3" y="246.7">(1.28,2.42]</text>
<text class="ll" x="1149.3" y="292.2">(2.42,3.69]</text>
<text class="ll" x="1149.3" y="337.7">(3.69,10.4]</text>
<text class="lt" x="1108.5" y="632">Count</text>
<circle cx="1131.5" cy="671.8" r="4.8"/>
<circle cx="1131.5" cy="718" r="13"/>
<circle cx="1131.5" cy="763.9" r="16.4"/>
<circle cx="1131.5" cy="809.8" r="18.9"/>
<text class="ll" x="1169.6" y="681.4">[0,2]</text>
<text class="ll" x="1169.6" y="727.4">(2,5]</text>
<text class="ll" x="1169.6" y="773.4">(5,10]</text>
<text class="ll" x="1169.6" y="819.4">(10,16]</text>
</svg>
</body></html>
